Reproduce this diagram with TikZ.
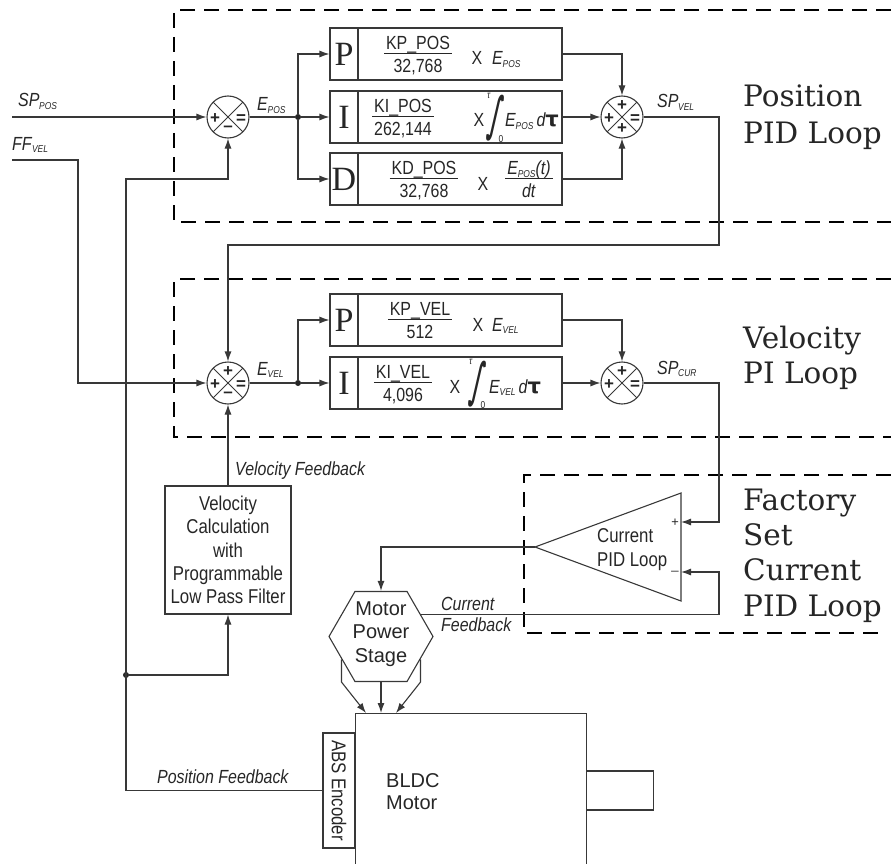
\documentclass[tikz,border=0pt]{standalone}
\usepackage{fontspec}
\usepackage{graphicx}
\setmainfont{Liberation Sans}[FakeStretch=0.84]
\newfontfamily\regsans{Liberation Sans}
\newfontfamily\bigserif{DejaVu Serif}
\newfontfamily\letterserif{Liberation Serif}
\newfontfamily\dejavu{DejaVu Sans}
\usetikzlibrary{arrows.meta,shapes.geometric}
\newcommand\sbs[1]{\raisebox{-2.5pt}{\fontsize{10}{10}\selectfont\itshape #1}}
\newcommand\lbl[2]{\textit{#1}\kern-0.3pt\sbs{#2}}
\newcommand\frc[2]{{\renewcommand\arraystretch{0.5}\setlength\arrayrulewidth{1pt}\begin{tabular}{@{\hspace{2pt}}c@{\hspace{2pt}}}\rule[-3.5pt]{0pt}{0pt}#1\\\hline\rule{0pt}{18.5pt}#2\end{tabular}}}
\newcommand\intglyph{\resizebox*{12pt}{46pt}{\dejavu\bfseries ∫}}
\newcommand\dtau{\textit{d}\kern-0.5pt{\dejavu\bfseries\fontsize{21}{21}\selectfont τ}}
\tikzset{
  ln/.style={line width=1.1pt, draw=black!78},
  arr/.style={ln, -{Latex[length=10pt,width=7pt]}},
  dbox/.style={line width=1.8pt, draw=black, dash pattern=on 15pt off 9pt},
  blk/.style={draw=black!78, line width=1.1pt, minimum width=232pt, minimum height=52pt, inner sep=0pt},
  lcell/.style={draw=black!78, line width=1.1pt, minimum width=28pt, minimum height=52pt, inner sep=0pt, text=black!85, font=\letterserif\fontsize{34}{34}\selectfont},
  sumc/.style={circle, draw=black!78, line width=1.1pt, minimum size=42pt, inner sep=0pt,
    path picture={\draw[line width=0.9pt, black!78] (path picture bounding box.north west) -- (path picture bounding box.south east) (path picture bounding box.north east) -- (path picture bounding box.south west);}},
  sgn/.style={inner sep=0pt, text=black!85, font=\regsans\bfseries\fontsize{17}{17}\selectfont},
  txt/.style={inner sep=0pt, text=black!85, font=\fontsize{19}{22}\selectfont},
  lim/.style={inner sep=0pt, text=black!85, font=\fontsize{10}{10}\selectfont},
  integ/.style={inner sep=0pt, text=black!85, xslant=0.2},
  dot/.style={circle, fill=black!85, inner sep=0pt, minimum size=6pt},
  big/.style={inner sep=0pt, anchor=base west, text=black!85, font=\bigserif\fontsize{29.5}{36}\selectfont},
  hexa/.style={regular polygon, regular polygon sides=6, draw=black!78, line width=1.1pt, inner sep=0pt, minimum size=104pt},
  plainbox/.style={draw=black!78, line width=1.1pt, inner sep=0pt},
}
\begin{document}
\begin{tikzpicture}[x=1pt,y=-1pt]
\useasboundingbox (0,0) rectangle (891,864);
% dashed groups
\draw[dbox] (891,10) -- (174,10) -- (174,222) -- (891,222);
\draw[dbox] (891,279) -- (174,279) -- (174,437) -- (891,437);
\draw[dbox] (891,475) -- (524,475) -- (524,633) -- (884,633);
% big labels
\node[big] (lp1) at (743,107) {Position};
\node[big] (lp2) at (743,143) {PID Loop};
\node[big] (lv1) at (743,348) {Velocity};
\node[big] (lv2) at (743,383) {PI Loop};
\node[big] (lc1) at (743,510) {Factory};
\node[big] (lc2) at (743,545) {Set};
\node[big] (lc3) at (743,580) {Current};
\node[big] (lc4) at (743,616) {PID Loop};
% summing junctions
\node[sumc] (sp1) at (228,117) {};
\node[sgn] (sp1l) at ([xshift=-13pt,yshift=-2pt]sp1.center) {+};
\node[sgn] (sp1r) at ([xshift=13pt,yshift=-2pt]sp1.center) {=};
\node[sgn] (sp1b) at ([yshift=-12pt]sp1.center) {–};
\node[sumc] (sp2) at (622,117) {};
\node[sgn] (sp2l) at ([xshift=-13pt,yshift=-2pt]sp2.center) {+};
\node[sgn] (sp2r) at ([xshift=13pt,yshift=-2pt]sp2.center) {=};
\node[sgn] (sp2t) at ([yshift=11pt]sp2.center) {+};
\node[sgn] (sp2b) at ([yshift=-12pt]sp2.center) {+};
\node[sumc] (sv1) at (228,383) {};
\node[sgn] (sv1l) at ([xshift=-13pt,yshift=-2pt]sv1.center) {+};
\node[sgn] (sv1r) at ([xshift=13pt,yshift=-2pt]sv1.center) {=};
\node[sgn] (sv1t) at ([yshift=11pt]sv1.center) {+};
\node[sgn] (sv1b) at ([yshift=-12pt]sv1.center) {–};
\node[sumc] (sv2) at (622,383) {};
\node[sgn] (sv2l) at ([xshift=-13pt,yshift=-2pt]sv2.center) {+};
\node[sgn] (sv2r) at ([xshift=13pt,yshift=-2pt]sv2.center) {=};
\node[sgn] (sv2t) at ([yshift=11pt]sv2.center) {+};
% blocks
\node[blk] (bpP) at (446,54) {};
\node[lcell, anchor=west] (bpPl) at (bpP.west) {P};
\node[blk] (bpI) at (446,117) {};
\node[lcell, anchor=west] (bpIl) at (bpI.west) {I};
\node[blk] (bpD) at (446,179) {};
\node[lcell, anchor=west] (bpDl) at (bpD.west) {D};
\node[blk] (bvP) at (446,320) {};
\node[lcell, anchor=west] (bvPl) at (bvP.west) {P};
\node[blk] (bvI) at (446,383) {};
\node[lcell, anchor=west] (bvIl) at (bvI.west) {I};
% block contents
\node[txt] (fpP) at (418,56) {\frc{KP\_POS}{32,768}};
\node[txt, anchor=base] (xpP) at (477,65) {X};
\node[txt, anchor=base west] (epP) at (492,65) {\lbl{E}{POS}};
\node[txt] (fpI) at (403,119) {\frc{KI\_POS}{262,144}};
\node[txt, anchor=base] (xpI) at (479,127) {X};
\node[integ] (ipI) at (496,118) {\intglyph};
\node[lim] (ipIt) at (489,96) {\textit{τ}};
\node[lim] (ipIz) at (501,139) {0};
\node[txt, anchor=base west] (epI) at (505,127) {\lbl{E}{POS}\,\dtau};
\node[txt] (fpD) at (424,181) {\frc{KD\_POS}{32,768}};
\node[txt, anchor=base] (xpD) at (483,190) {X};
\node[txt] (fpD2) at (529,181) {\frc{\lbl{E}{POS}\textit{(t)}}{\textit{dt}}};
\node[txt] (fvP) at (420,322) {\frc{KP\_VEL}{512}};
\node[txt, anchor=base] (xvP) at (478,331) {X};
\node[txt, anchor=base west] (evP) at (492,331) {\lbl{E}{VEL}};
\node[txt] (fvI) at (403,385) {\frc{KI\_VEL}{4,096}};
\node[txt, anchor=base] (xvI) at (455,393) {X};
\node[integ] (ivI) at (478,384) {\intglyph};
\node[lim] (ivIt) at (471,362) {\textit{τ}};
\node[lim] (ivIz) at (483,405) {0};
\node[txt, anchor=base west] (evI) at (489,393) {\lbl{E}{VEL}\,\dtau};
% signal labels
\node[txt, anchor=base west] (lSPpos) at (18,107) {\lbl{SP}{POS}};
\node[txt, anchor=base west] (lFFvel) at (12,150) {\lbl{FF}{VEL}};
\node[txt, anchor=base west] (lEpos) at (257,111) {\lbl{E}{POS}};
\node[txt, anchor=base west] (lEvel) at (257,375) {\lbl{E}{VEL}};
\node[txt, anchor=base west] (lSPvel) at (657,108) {\lbl{SP}{VEL}};
\node[txt, anchor=base west] (lSPcur) at (657,374) {\lbl{SP}{CUR}};
\node[txt, anchor=base west] (lVfb) at (235,475) {\itshape Velocity Feedback};
\node[txt, anchor=base west] (lCfb1) at (441,610) {\itshape Current};
\node[txt, anchor=base west] (lCfb2) at (441,631) {\itshape Feedback};
\node[txt, anchor=base west] (lPfb) at (157,783) {\itshape Position Feedback};
% dots and coordinates
\node[dot] (dp) at (298,117) {};
\node[dot] (dv) at (298,383) {};
\node[dot] (dfb) at (126,675) {};
\coordinate (inSP) at (12,117);
\coordinate (inFF) at (12,160);
\coordinate (ffB) at (78,383);
\coordinate (po1) at (719,245);
\coordinate (cp) at (719,522);
\coordinate (cf1) at (719,614);
\coordinate (pfTop) at (126,179);
% filter
\node[plainbox, minimum width=126pt, minimum height=128pt, align=center, text=black!85, font=\fontsize{20}{23.3}\selectfont] (filt) at (228,550) {Velocity\\Calculation\\with\\Programmable\\Low Pass Filter};
% current loop triangle
\coordinate (tip) at (535,547);
\coordinate (ttop) at (681,493);
\coordinate (tbot) at (681,601);
\coordinate (tplus) at (681,522);
\coordinate (tminus) at (681,572);
\draw[ln] (tip) -- (ttop) -- (tbot) -- cycle;
\node[txt, anchor=west, align=left, font=\fontsize{20}{24}\selectfont] (ctext) at (597,550) {Current\\PID Loop};
\node[sgn, font=\regsans\itshape\fontsize{13}{13}\selectfont] (tps) at (675,523) {+};
\node[sgn, font=\regsans\fontsize{13}{13}\selectfont] (tms) at (675,571) {\_};
% motor power stage
\node[hexa] (mps) at (381,636.5) {};
\node[inner sep=0pt, align=center, text=black!85, font=\regsans\fontsize{20}{23.5}\selectfont] (mpst) at (381,634) {Motor\\Power\\Stage};
% motor
\node[plainbox, minimum width=231pt, minimum height=200pt, anchor=north west] (motor) at (355,713) {};
\node[plainbox, minimum width=32pt, minimum height=115pt, text=black!85, font=\fontsize{20}{20}\selectfont] (enc) at (339,790.5) {\rotatebox{-90}{ABS Encoder}};
\node[plainbox, minimum width=67pt, minimum height=39pt, anchor=west] (shaft) at (586,790.5) {};
\node[txt, anchor=base west, font=\regsans\fontsize{20}{22}\selectfont] (bl1) at (386,787) {BLDC};
\node[txt, anchor=base west, font=\regsans\fontsize{20}{22}\selectfont] (bl2) at (386,809) {Motor};
\coordinate (mtA) at (366,713);
\coordinate (mtB) at (396,713);
% connectors
\draw[arr] (inSP) -- (sp1.west);
\draw[arr] (inFF) -| (ffB) -- (sv1.west);
\draw[ln] (sp1.east) -- (dp);
\draw[arr] (dp) -- (bpI.west);
\draw[arr] (dp) |- (bpP.west);
\draw[arr] (dp) |- (bpD.west);
\draw[arr] (bpP.east) -| (sp2.north);
\draw[arr] (bpI.east) -- (sp2.west);
\draw[arr] (bpD.east) -| (sp2.south);
\draw[arr] (sp2.east) -| (po1) -| (sv1.north);
\draw[ln] (sv1.east) -- (dv);
\draw[arr] (dv) -- (bvI.west);
\draw[arr] (dv) |- (bvP.west);
\draw[arr] (bvP.east) -| (sv2.north);
\draw[arr] (bvI.east) -- (sv2.west);
\draw[arr] (sv2.east) -| (cp) -- (tplus);
\draw[arr] (mps.29) -- (mps.29 -| cf1) |- (tminus);
\draw[arr] (tip) -| (mps.north);
\draw[arr] (filt.north) -- (sv1.south);
\draw[arr] (enc.west) -| (pfTop) -| (sp1.south);
\draw[arr] (dfb) -| (filt.south);
\draw[arr] (mps.210) -- (mps.210 |- mps.south) -- (mtA);
\draw[arr] (mps.south) -- (mps.south |- motor.north);
\draw[arr] (mps.330) -- (mps.330 |- mps.south) -- (mtB);
\end{tikzpicture}
\end{document}
